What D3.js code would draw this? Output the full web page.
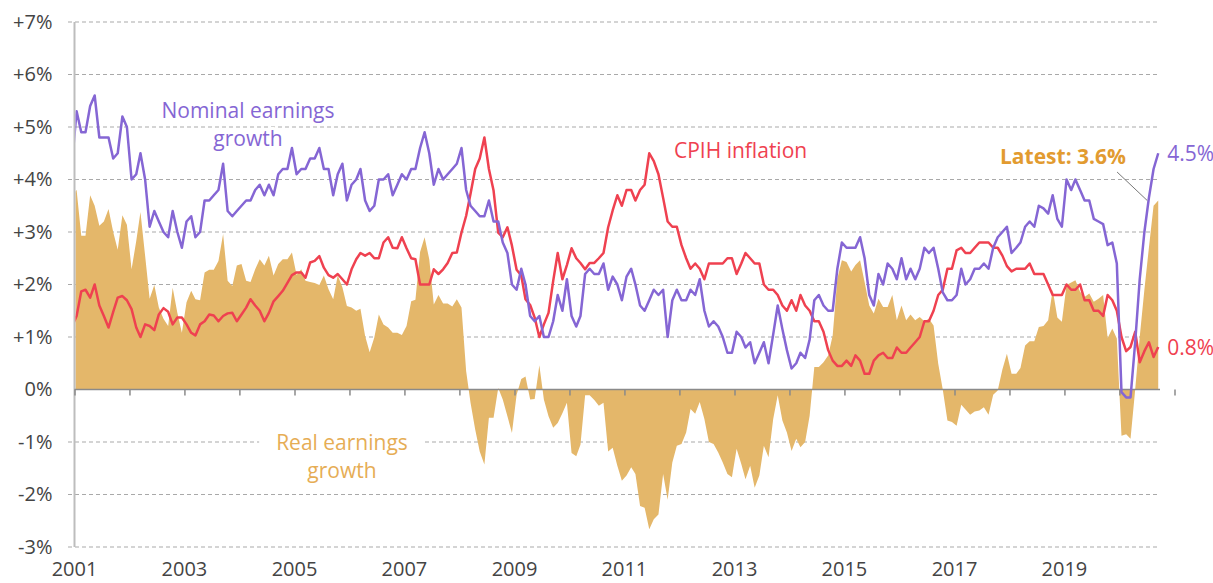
<!DOCTYPE html>
<html>
<head>
<meta charset="utf-8">
<script src="https://cdnjs.cloudflare.com/ajax/libs/d3/7.8.5/d3.min.js"></script>
<style>
  body { margin: 0; background: #fff; }
  svg { display: block; font-family: "Open Sans", sans-serif; }
</style>
</head>
<body>
<div id="chart"></div>
<script>
//************* data (monthly, first value is Dec 2000, clipped at the axis) ***************/
var nominal = [4.3,
  5.3,4.9,4.9,5.4,5.6,4.8,4.8,4.8,4.4,4.5,5.2,5.0,
  4.0,4.1,4.5,4.0,3.1,3.4,3.2,3.0,2.9,3.4,3.0,2.7,
  3.2,3.3,2.9,3.0,3.6,3.6,3.7,3.8,4.3,3.4,3.3,3.4,
  3.5,3.6,3.6,3.8,3.9,3.7,3.9,3.7,4.1,4.2,4.2,4.6,
  4.1,4.2,4.2,4.4,4.4,4.6,4.2,4.2,3.7,4.1,4.3,3.6,
  3.9,4.0,4.2,3.6,3.4,3.5,4.0,4.0,4.1,3.7,3.9,4.1,
  4.0,4.2,4.2,4.6,4.9,4.5,3.9,4.2,4.0,4.1,4.2,4.3,
  4.6,3.8,3.5,3.4,3.3,3.3,3.6,3.2,3.2,2.8,2.6,2.0,
  1.9,2.3,2.0,1.4,1.3,1.4,1.0,1.0,1.3,1.8,1.5,2.1,
  1.4,1.2,1.4,2.2,2.3,2.2,2.2,2.4,1.9,2.15,2.0,1.7,
  2.15,2.3,2.0,1.6,1.5,1.7,1.9,1.8,1.9,1.0,1.7,1.9,
  1.7,1.7,1.9,1.8,2.1,1.5,1.2,1.3,1.2,1.0,0.7,0.7,
  1.1,1.0,0.8,0.9,0.5,0.7,0.9,0.5,1.05,1.6,1.15,0.75,
  0.4,0.5,0.7,0.6,0.95,1.7,1.8,1.6,1.5,1.5,2.3,2.8,
  2.7,2.7,2.7,2.9,2.5,1.8,1.6,2.2,2.0,2.4,2.3,2.1,
  2.5,2.1,2.3,2.1,2.3,2.7,2.6,2.7,2.3,1.85,1.7,1.7,
  1.8,2.3,2.0,2.1,2.3,2.3,2.4,2.3,2.7,2.9,3.0,3.1,
  2.6,2.7,2.8,3.1,3.2,3.1,3.5,3.45,3.35,3.7,3.25,3.1,
  4.0,3.8,4.0,3.8,3.6,3.6,3.25,3.2,3.15,2.75,2.8,2.4,
  -0.05,-0.15,-0.15,0.9,2.1,3.0,3.65,4.2,4.5];

var cpih = [1.2,
  1.4,1.87,1.9,1.75,2.0,1.6,1.4,1.18,1.48,1.75,1.78,1.7,
  1.53,1.18,1.0,1.24,1.21,1.13,1.43,1.55,1.48,1.24,1.37,1.37,
  1.24,1.08,1.03,1.24,1.3,1.43,1.41,1.3,1.4,1.45,1.46,1.3,
  1.43,1.56,1.72,1.6,1.5,1.3,1.46,1.68,1.78,1.88,2.03,2.18,
  2.23,2.23,2.13,2.42,2.45,2.54,2.32,2.18,2.13,2.2,2.1,2.0,
  2.29,2.48,2.6,2.55,2.6,2.5,2.5,2.8,2.9,2.7,2.69,2.9,
  2.69,2.5,2.48,2.0,2.0,2.0,2.29,2.2,2.29,2.41,2.6,2.61,
  2.99,3.31,3.73,4.2,4.4,4.8,4.2,3.79,2.99,2.9,3.09,2.74,
  2.28,2.17,1.72,1.61,1.37,1.0,1.24,1.46,2.07,2.6,2.1,2.37,
  2.69,2.5,2.41,2.29,2.41,2.41,2.5,2.6,3.09,3.41,3.7,3.5,
  3.8,3.8,3.6,3.8,3.9,4.5,4.35,4.1,3.65,3.2,3.1,3.1,
  2.75,2.5,2.3,2.4,2.3,2.1,2.4,2.4,2.4,2.4,2.5,2.5,
  2.2,2.4,2.6,2.5,2.4,2.4,2.0,1.9,1.9,1.8,1.6,1.5,
  1.7,1.5,1.8,1.6,1.5,1.3,1.3,1.1,0.75,0.55,0.45,0.45,
  0.55,0.45,0.65,0.55,0.3,0.3,0.55,0.65,0.7,0.6,0.6,0.8,
  0.7,0.7,0.8,0.9,1.0,1.3,1.3,1.5,1.8,1.9,2.3,2.3,
  2.65,2.7,2.6,2.6,2.7,2.8,2.8,2.8,2.7,2.7,2.55,2.35,
  2.25,2.3,2.3,2.3,2.4,2.2,2.2,2.2,2.0,1.8,1.8,1.8,
  2.0,1.9,1.9,2.0,1.7,1.7,1.5,1.5,1.4,1.8,1.7,1.5,
  1.0,0.73,0.81,1.1,0.52,0.73,0.9,0.62,0.81];

var real = [3.7,
  3.8,2.93,2.93,3.7,3.5,3.12,3.2,3.44,3.0,2.66,3.32,3.14,
  2.29,2.83,3.38,2.55,1.73,1.99,1.56,1.35,1.21,1.94,1.46,1.08,
  1.66,1.88,1.72,1.7,2.23,2.28,2.28,2.45,2.96,2.07,1.97,2.36,
  2.39,2.07,2.05,2.29,2.48,2.36,2.55,2.17,2.39,2.48,2.48,2.61,
  2.18,2.29,2.07,2.05,2.03,1.99,2.17,1.91,1.72,2.17,1.95,1.59,
  1.56,1.5,1.54,1.02,0.71,0.99,1.43,1.24,1.18,1.08,1.08,1.04,
  1.21,1.68,1.71,2.62,2.9,2.48,1.62,1.8,1.64,1.64,1.58,1.72,
  1.56,0.35,-0.25,-0.76,-1.18,-1.43,-0.54,-0.54,0.03,-0.19,-0.51,-0.83,
  -0.1,0.2,0.25,-0.19,-0.18,0.46,-0.19,-0.51,-0.73,-0.64,-0.45,-0.25,
  -1.21,-1.27,-1.05,-0.11,-0.11,-0.2,-0.31,-0.25,-1.18,-1.11,-1.45,-1.74,
  -1.64,-1.48,-1.61,-2.22,-2.25,-2.66,-2.47,-2.38,-1.61,-2.1,-1.39,-1.07,
  -1.04,-0.82,-0.37,-0.46,-0.24,-0.56,-1.0,-1.04,-1.2,-1.39,-1.61,-1.67,
  -1.13,-1.42,-1.71,-1.45,-1.87,-1.64,-1.07,-1.29,-0.56,-0.11,-0.59,-0.82,
  -1.17,-0.94,-1.1,-1.0,-0.5,0.43,0.43,0.52,0.65,1.03,2.11,2.46,
  2.43,2.25,2.37,2.46,2.05,1.6,1.45,1.73,1.57,1.57,1.8,1.32,
  1.6,1.32,1.43,1.32,1.38,1.3,1.35,1.22,0.49,0.0,-0.59,-0.62,
  -0.69,-0.29,-0.38,-0.48,-0.42,-0.4,-0.34,-0.48,-0.1,-0.02,0.38,0.68,
  0.3,0.3,0.41,0.84,0.92,0.92,1.19,1.21,1.32,1.9,1.37,1.29,
  1.99,2.04,2.08,1.86,1.76,1.83,1.67,1.73,1.8,0.98,1.16,0.97,
  -0.88,-0.85,-0.94,0.0,1.0,1.9,2.7,3.5,3.6];

var yTicks = [7, 6, 5, 4, 3, 2, 1, 0, -1, -2, -3];
var yearLabels = [2001, 2003, 2005, 2007, 2009, 2011, 2013, 2015, 2017, 2019];

//************* colours ***************/
var purple = "#8566d4", red = "#ef4150", gold = "#e4b76a";

//************* setup svg ***************/
var width = 1213, height = 583;
var plotLeft = 74.5, plotRight = 1160;

var svg = d3.select("#chart")
  .append("svg")
    .attr("width", width)
    .attr("height", height);

//************* scales ***************/
var x = d3.scaleTime()
  .domain([new Date(2001, 0, 1), new Date(2021, 0, 1)])
  .range([plotLeft, plotLeft + 1100]);

var y = d3.scaleLinear()
  .domain([-3, 7])
  .range([547, 22]);

var dates = nominal.map(function(d, i){ return new Date(2000, 11 + i, 15); });
function series(vals){ return vals.map(function(v, i){ return {date: dates[i], v: v}; }); }

//************* clip ***************/
svg.append("clipPath").attr("id", "plot")
  .append("rect")
    .attr("x", plotLeft + 1).attr("y", 0)
    .attr("width", plotRight - plotLeft).attr("height", height);

//***************** grid + y labels *******************/
svg.append("g")
  .selectAll("line")
  .data(yTicks.filter(function(d){ return d !== 0; }))
  .enter().append("line")
    .attr("x1", 68).attr("x2", plotRight)
    .attr("y1", function(d){ return y(d); })
    .attr("y2", function(d){ return y(d); })
    .attr("stroke", "#a9a9a9")
    .attr("stroke-width", 1)
    .attr("stroke-dasharray", "4,3");

var yAxis = d3.axisLeft(y)
  .tickValues(yTicks)
  .tickSize(0)
  .tickPadding(22)
  .tickFormat(function(d){ return d > 0 ? "+" + d + "%" : d + "%"; });
var yG = svg.append("g")
  .attr("transform", "translate(" + plotLeft + ",0)")
  .call(yAxis);
yG.select(".domain").remove();
yG.selectAll("text")
  .attr("font-family", "Open Sans, sans-serif")
  .attr("font-size", "20px")
  .attr("fill", "#444");

// label backgrounds (hide the gridline behind "Real earnings growth")
var labels = svg.append("g");

//************* real earnings area ***************/
var area = d3.area()
  .x(function(d){ return x(d.date); })
  .y0(y(0))
  .y1(function(d){ return y(d.v); });

svg.append("path")
  .datum(series(real))
  .attr("clip-path", "url(#plot)")
  .attr("fill", gold)
  .attr("d", area);

//***************** axes *******************/
svg.append("line")
  .attr("x1", plotLeft).attr("x2", plotLeft)
  .attr("y1", y(7)).attr("y2", y(-3))
  .attr("stroke", "#bdbdbd").attr("stroke-width", 2);

var xAxis = d3.axisBottom(x)
  .ticks(d3.timeYear.every(1))
  .tickSize(6)
  .tickFormat("");
var xG = svg.append("g")
  .attr("transform", "translate(0," + y(0) + ")")
  .call(xAxis);
xG.select(".domain").remove();
xG.selectAll("line").attr("stroke", "#8a8a8a").attr("stroke-width", 1.5);

svg.append("line")
  .attr("x1", plotLeft).attr("x2", plotRight)
  .attr("y1", y(0)).attr("y2", y(0))
  .attr("stroke", "#8a8a8a").attr("stroke-width", 1.5);

svg.append("g")
  .selectAll("text")
  .data(yearLabels)
  .enter().append("text")
    .attr("x", function(d){ return x(new Date(d, 0, 1)); })
    .attr("y", 576)
    .attr("text-anchor", "middle")
    .attr("font-size", "20px")
    .attr("fill", "#444")
    .text(function(d){ return d; });

//************* lines ***************/
var line = d3.line()
  .x(function(d){ return x(d.date); })
  .y(function(d){ return y(d.v); });

svg.append("path")
  .datum(series(cpih))
  .attr("clip-path", "url(#plot)")
  .attr("fill", "none")
  .attr("stroke", red)
  .attr("stroke-width", 2.5)
  .attr("stroke-linejoin", "round")
  .attr("d", line);

svg.append("path")
  .datum(series(nominal))
  .attr("clip-path", "url(#plot)")
  .attr("fill", "none")
  .attr("stroke", purple)
  .attr("stroke-width", 2.5)
  .attr("stroke-linejoin", "round")
  .attr("d", line);

//************* series labels ***************/
function label(g, lines, xPos, yPos, colour, anchor, weight, halo){
  var t = g.append("text")
    .attr("x", xPos).attr("y", yPos)
    .attr("text-anchor", anchor)
    .attr("font-size", "21px")
    .attr("font-weight", weight)
    .attr("fill", colour);
  if (halo) {
    t.attr("stroke", "#fff").attr("stroke-width", 6)
     .attr("stroke-linejoin", "round").attr("paint-order", "stroke");
  }
  lines.forEach(function(s, i){
    t.append("tspan").attr("x", xPos).attr("dy", i === 0 ? 0 : 28).text(s);
  });
  return t;
}

var realLabel = label(labels, ["Real earnings", "growth"], 342, 450, "#e6ad55", "middle", 400, false);
var bb = realLabel.node().getBBox();
labels.insert("rect", "text")
  .attr("x", bb.x - 17).attr("y", bb.y - 2)
  .attr("width", bb.width + 34).attr("height", bb.height + 4)
  .attr("fill", "#fff");

label(svg, ["Nominal earnings", "growth"], 248, 118, purple, "middle", 400, true);
label(svg, ["CPIH inflation"], 674, 158, red, "start", 400, true);

var lastIdx = real.length - 1;
var latest = label(svg, ["Latest: " + real[lastIdx].toFixed(1) + "%"], 1000, 164, "#e29b30", "start", 700, true);

// pointer from "Latest" label to the end of the area
var lb = latest.node().getBBox();
svg.append("line")
  .attr("x1", lb.x + lb.width - 9).attr("y1", lb.y + lb.height + 2)
  .attr("x2", x(dates[lastIdx]) - 11).attr("y2", y(real[lastIdx]))
  .attr("stroke", "#777").attr("stroke-width", 1);

label(svg, [nominal[lastIdx].toFixed(1) + "%"], x(dates[lastIdx]) + 9, 161, purple, "start", 400, false);
label(svg, [cpih[lastIdx].toFixed(1) + "%"], x(dates[lastIdx]) + 9, 355, red, "start", 400, false);
</script>
</body>
</html>
